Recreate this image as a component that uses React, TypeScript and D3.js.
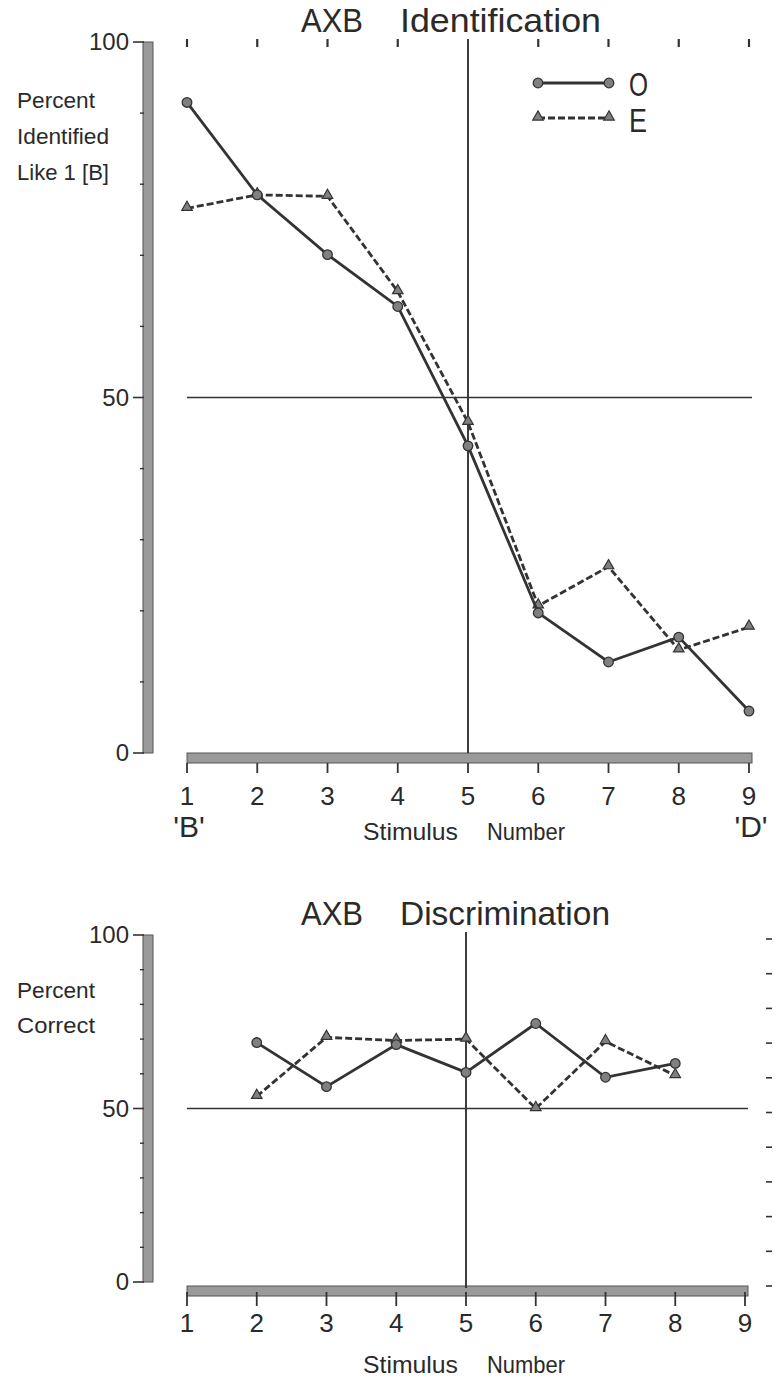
import React from "react";
import * as d3 from "d3";

// stimulus numbers
const identStimuli = [1, 2, 3, 4, 5, 6, 7, 8, 9];
const discStimuli = [2, 3, 4, 5, 6, 7, 8];
const xTickLabels = ["1", "2", "3", "4", "5", "6", "7", "8", "9"];

// percent identified like 1 [B]
const identO = [91.5, 78.5, 70.1, 62.8, 43.2, 19.7, 12.8, 16.3, 5.9];
const identE = [76.6, 78.5, 78.3, 64.9, 46.5, 20.7, 26.2, 14.5, 17.7];

// percent correct
const discO = [69, 56.3, 68.4, 60.4, 74.5, 59, 63];
const discE = [53.5, 70.5, 69.6, 70, 50, 69.3, 59.5];

const yLabels = [0, 50, 100];
const minorTicks = [10, 20, 30, 40, 60, 70, 80, 90];
const allTens = [0, 10, 20, 30, 40, 50, 60, 70, 80, 90, 100];

const INK = "#333";
const FONT = "'Liberation Sans', Arial, sans-serif";

const triangle = d3.symbol().type(d3.symbolTriangle).size(48)();

function Series({ xs, ys, x, y, dashed, marker }: any) {
  const pts = xs.map((s: number, i: number) => [s, ys[i]]);
  const line = d3.line<number[]>().x((d) => x(d[0])).y((d) => y(d[1]));
  return (
    <g>
      <path d={line(pts) || ""} fill="none" stroke={INK} strokeWidth={2.8}
        strokeDasharray={dashed ? "7,3" : undefined} />
      {pts.map((d: number[], i: number) =>
        marker === "circle" ? (
          <circle key={i} cx={x(d[0])} cy={y(d[1])} r={4.8} fill="#808080" stroke={INK} strokeWidth={1.3} />
        ) : (
          <path key={i} d={triangle || ""} transform={`translate(${x(d[0])},${y(d[1]) - 1})`}
            fill="#808080" stroke={INK} strokeWidth={1.2} />
        )
      )}
    </g>
  );
}

function Panel({ top, bottom, x0, x1, title, yTitle, stim, o, e, upper }: any) {
  const x = d3.scaleLinear().domain([1, 9]).range([x0, x1]);
  const y = d3.scaleLinear().domain([0, 100]).range([bottom, top]);
  const barTop = y(100);
  return (
    <g fontFamily={FONT} fill="#2a2a2a">
      {/* title */}
      <text x={301} y={top - 10} fontSize={34} textLength={62} lengthAdjust="spacingAndGlyphs">AXB</text>
      <text x={400} y={top - 10} fontSize={34} textLength={upper ? 201 : 210} lengthAdjust="spacingAndGlyphs">{title}</text>

      {/* y axis bar */}
      <rect x={143} y={barTop} width={10} height={bottom - barTop} fill="#9a9a9a" stroke="#555" strokeWidth={1} />
      {yLabels.map((v) => (
        <g key={v}>
          <line x1={133} x2={144} y1={y(v)} y2={y(v)} stroke={INK} strokeWidth={1.6} />
          <text x={129} y={y(v) + 8} fontSize={24} textAnchor="end">{v}</text>
        </g>
      ))}
      {minorTicks.map((v) => (
        <line key={v} x1={140} x2={144} y1={y(v)} y2={y(v)} stroke={INK} strokeWidth={1.4} />
      ))}
      {yTitle.map((t: string, i: number) => (
        <text key={i} x={17} y={(upper ? 108 : 998) + i * (upper ? 36 : 35)} fontSize={22}
          textLength={t === "Percent" ? 78 : t === "Correct" ? 78 : 92} lengthAdjust="spacingAndGlyphs">{t}</text>
      ))}

      {/* x axis bar */}
      <rect x={x0} y={bottom + (upper ? 0 : 4)} width={x1 - x0 + 3} height={10} fill="#9a9a9a" stroke="#555" strokeWidth={1} />
      {stim.map((s: number) => (
        <line key={s} x1={x(s)} x2={x(s)} y1={bottom + 10} y2={bottom + (upper ? 20 : 24)} stroke={INK} strokeWidth={1.8} />
      ))}
      {xTickLabels.map((t, i) => (
        <text key={t} x={x(i + 1)} y={bottom + (upper ? 52 : 50)} fontSize={26} textAnchor="middle">{t}</text>
      ))}
      <text x={363} y={bottom + (upper ? 87 : 91)} fontSize={24} textLength={95} lengthAdjust="spacingAndGlyphs">Stimulus</text>
      <text x={487} y={bottom + (upper ? 87 : 91)} fontSize={24} textLength={78} lengthAdjust="spacingAndGlyphs">Number</text>
      {upper && (
        <g fontSize={30}>
          <text x={x(1) + 2} y={bottom + 84} textAnchor="middle">'B'</text>
          <text x={x(9) + 2} y={bottom + 84} textAnchor="middle">'D'</text>
        </g>
      )}

      {/* reference lines */}
      <line x1={x(1)} x2={x(9) + 3} y1={y(50)} y2={y(50)} stroke={INK} strokeWidth={1.6} />
      <line x1={x(5)} x2={x(5)} y1={barTop - 3} y2={bottom + (upper ? 0 : 6)} stroke={INK} strokeWidth={1.9} />

      {upper
        ? stim.filter((s: number) => s !== 5).map((s: number) => (
            <line key={s} x1={x(s)} x2={x(s)} y1={barTop - 3} y2={barTop + 5} stroke={INK} strokeWidth={2.2} />
          ))
        : allTens.map((v) => (
            <line key={v} x1={766} x2={772} y1={y(v) + 4} y2={y(v) + 4} stroke={INK} strokeWidth={1.6} />
          ))}

      <Series xs={upper ? identStimuli : discStimuli} ys={e} x={x} y={y} dashed marker="triangle" />
      <Series xs={upper ? identStimuli : discStimuli} ys={o} x={x} y={y} marker="circle" />
    </g>
  );
}

function Legend() {
  const lx = d3.scaleLinear().domain([0, 1]).range([538, 609]);
  return (
    <g fontFamily={FONT} fill="#2a2a2a">
      <line x1={lx(0)} x2={lx(1)} y1={83} y2={83} stroke={INK} strokeWidth={2.8} />
      <circle cx={lx(0)} cy={83} r={4.8} fill="#808080" stroke={INK} strokeWidth={1.3} />
      <circle cx={lx(1)} cy={83} r={4.8} fill="#808080" stroke={INK} strokeWidth={1.3} />
      <text x={629} y={96} fontSize={33} textLength={19} lengthAdjust="spacingAndGlyphs">O</text>
      <line x1={lx(0)} x2={lx(1)} y1={118} y2={118} stroke={INK} strokeWidth={2.8} strokeDasharray="7,3" />
      <path d={triangle || ""} transform={`translate(${lx(0)},117)`} fill="#808080" stroke={INK} strokeWidth={1.2} />
      <path d={triangle || ""} transform={`translate(${lx(1)},117)`} fill="#808080" stroke={INK} strokeWidth={1.2} />
      <text x={629} y={132} fontSize={33} textLength={18} lengthAdjust="spacingAndGlyphs">E</text>
    </g>
  );
}

export default function App() {
  return (
    <svg width={777} height={1381} style={{ position: "absolute", left: 0, top: 0, background: "#fff" }}>
      <Panel top={42} bottom={753} x0={187} x1={749} title="Identification"
        yTitle={["Percent", "Identified", "Like 1 [B]"]} stim={identStimuli} o={identO} e={identE} upper />
      <Legend />
      <Panel top={935} bottom={1282} x0={187} x1={745} title="Discrimination"
        yTitle={["Percent", "Correct"]} stim={identStimuli} o={discO} e={discE} upper={false} />
    </svg>
  );
}
